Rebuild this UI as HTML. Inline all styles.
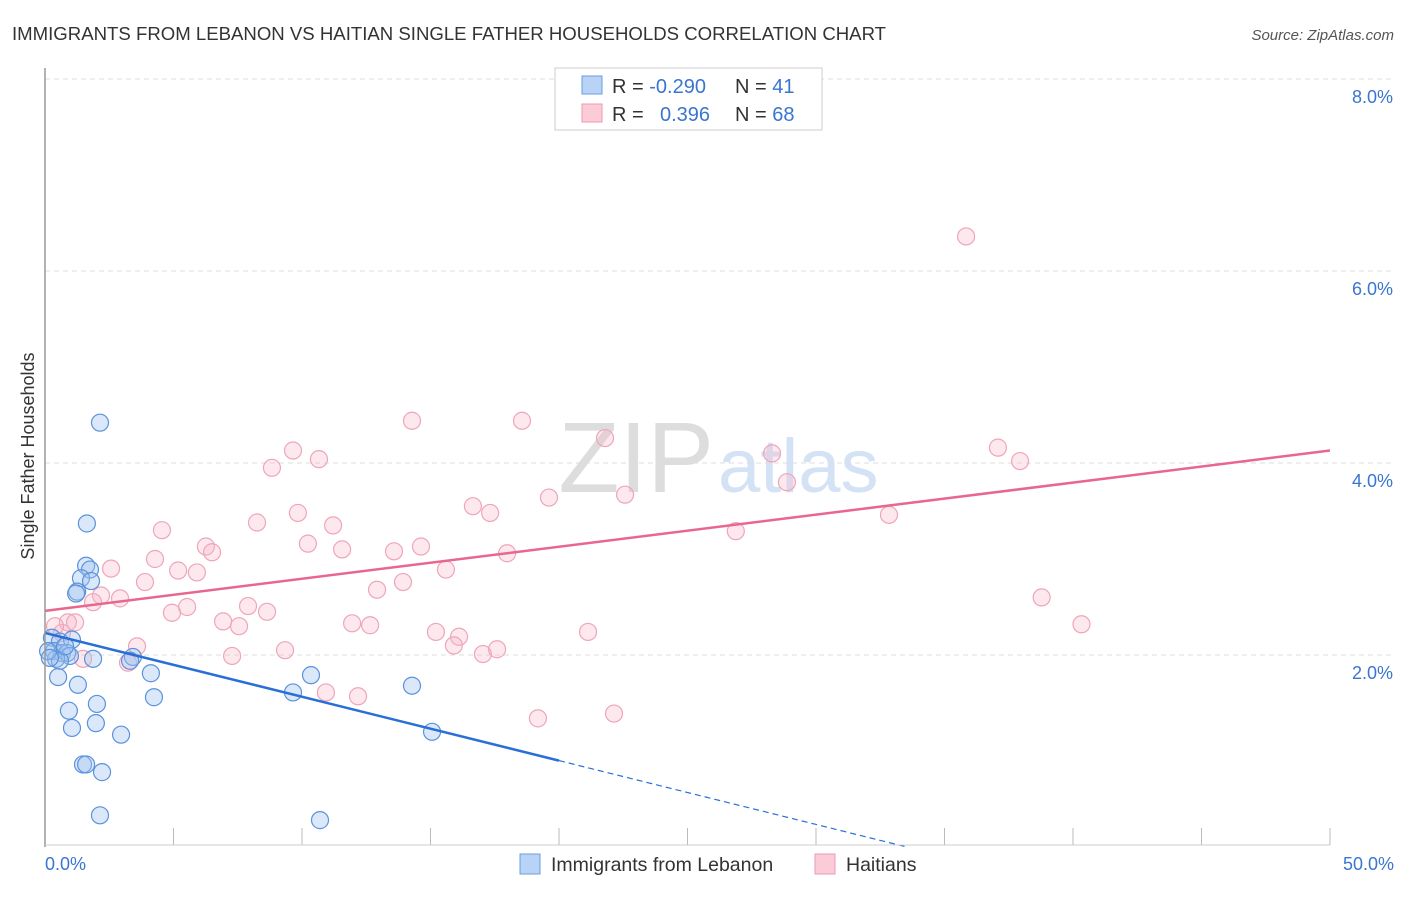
<!DOCTYPE html>
<html><head><meta charset="utf-8"><style>
body{margin:0;background:#fff;font-family:"Liberation Sans",sans-serif}
svg text{font-family:"Liberation Sans",sans-serif}
</style></head><body>
<svg id="c" width="1406" height="892">
<text x="12" y="40" font-size="18.6" fill="#333">IMMIGRANTS FROM LEBANON VS HAITIAN SINGLE FATHER HOUSEHOLDS CORRELATION CHART</text>
<text x="1394" y="40" font-size="15" fill="#555" font-style="italic" text-anchor="end">Source: ZipAtlas.com</text>
<text x="714" y="492" font-size="100" fill="#ddd" text-anchor="end" font-family="Liberation Serif">ZIP</text>
<text x="718" y="492" font-size="76" fill="#d4e2f6">atlas</text>
<text transform="translate(34,456) rotate(-90)" font-size="18" fill="#333" text-anchor="middle">Single Father Households</text>
<g id="grid"></g><g id="pts"></g><g id="lines"></g>
<line x1="45" y1="68" x2="45" y2="847" stroke="#999" stroke-width="1.5"/>
<line x1="45" y1="845" x2="1330" y2="845" stroke="#ccc"/>
<text x="45" y="870" font-size="18" fill="#3a75d0">0.0%</text>
<text x="1394" y="870" font-size="18" fill="#3a75d0" text-anchor="end">50.0%</text>
<g>
<rect x="555" y="68" width="267" height="62" fill="#fff" stroke="#ccc"/>
<rect x="582" y="76" width="20" height="18" fill="#b8d3f5" stroke="#6a9de0"/>
<rect x="582" y="104" width="20" height="18" fill="#fbcbd8" stroke="#ec9ab3"/>
<text x="612" y="93" font-size="20" fill="#333">R = <tspan fill="#3a75d0">-0.290</tspan><tspan x="735">N = </tspan><tspan fill="#3a75d0">41</tspan></text>
<text x="612" y="121" font-size="20" fill="#333">R = <tspan x="660" fill="#3a75d0">0.396</tspan><tspan x="735">N = </tspan><tspan fill="#3a75d0">68</tspan></text>
</g>
<g>
<rect x="520" y="854" width="20" height="20" fill="#b8d3f5" stroke="#6a9de0"/>
<text x="551" y="871" font-size="19.5" fill="#333">Immigrants from Lebanon</text>
<rect x="815" y="854" width="20" height="20" fill="#fbcbd8" stroke="#ec9ab3"/>
<text x="846" y="871" font-size="19.5" fill="#333">Haitians</text>
</g>
</svg>
<script>
const yTicks=[2,4,6,8];
const xTickCount=10;
const blueX=[2.14,1.63,1.6,1.75,1.4,1.79,1.25,1.21,0.27,0.58,1.05,0.35,0.66,0.86,0.97,0.43,0.58,1.87,3.42,0.51,1.28,4.12,10.35,4.24,9.65,14.28,0.93,2.02,1.05,1.98,2.96,15.06,1.48,1.6,2.22,2.14,10.7,0.12,0.19,0.78,3.31];
const blueY=[4.42,3.37,2.93,2.89,2.8,2.77,2.66,2.64,2.18,2.14,2.16,2.04,2.02,2.02,1.99,1.96,1.94,1.96,1.98,1.77,1.69,1.81,1.79,1.56,1.61,1.68,1.42,1.49,1.24,1.29,1.17,1.2,0.86,0.86,0.78,0.33,0.28,2.04,1.97,2.09,1.94];
const pinkX=[35.84,14.28,18.56,21.79,9.65,10.66,8.83,28.29,37.08,37.94,16.65,17.32,19.61,22.57,9.84,4.55,8.25,11.21,28.87,32.84,26.88,10.23,6.26,6.5,11.56,13.58,14.63,17.98,4.28,2.57,3.89,5.18,5.91,15.6,12.92,13.93,2.18,2.92,1.87,7.9,8.64,5.53,4.94,6.93,7.55,11.95,12.65,15.21,16.11,21.13,0.89,1.17,0.66,0.39,3.58,1.48,3.23,7.28,9.34,15.91,17.04,17.59,10.93,12.18,19.18,22.14,38.78,40.33];
const pinkY=[6.36,4.44,4.44,4.26,4.13,4.04,3.95,4.1,4.16,4.02,3.55,3.48,3.64,3.67,3.48,3.3,3.38,3.35,3.8,3.46,3.29,3.16,3.13,3.07,3.1,3.08,3.13,3.06,3.0,2.9,2.76,2.88,2.86,2.89,2.68,2.76,2.62,2.59,2.55,2.51,2.45,2.5,2.44,2.35,2.3,2.33,2.31,2.24,2.19,2.24,2.34,2.34,2.23,2.3,2.09,1.96,1.92,1.99,2.05,2.1,2.01,2.06,1.61,1.57,1.34,1.39,2.6,2.32];
const blueFit=[2.23,-0.0665];
const pinkFit=[2.46,0.0334];
const NS='http://www.w3.org/2000/svg';
const X=v=>45+v*25.7, Y=v=>847-v*96;
function mk(t,a,p){const e=document.createElementNS(NS,t);for(const k in a)e.setAttribute(k,a[k]);p.appendChild(e);return e;}
const grid=document.getElementById('grid'),pts=document.getElementById('pts'),lines=document.getElementById('lines');
yTicks.forEach(t=>{
 const l=mk('line',{x1:45,x2:1394,y1:Y(t),y2:Y(t),stroke:'#ddd','stroke-dasharray':'5,4'},grid);
 
 
 const tx=mk('text',{x:1393,y:Y(t)+24,'font-size':18,fill:'#3a75d0','text-anchor':'end'},grid);
 tx.textContent=t.toFixed(1)+'%';
 
 
});
for(let i=1;i<=xTickCount;i++){
 const l=mk('line',{x1:X(i*5),x2:X(i*5),y1:828,y2:845,stroke:'#bbb'},grid);
 
 
}
pinkX.forEach((v,i)=>{
 const c=mk('circle',{cx:X(v),cy:Y(pinkY[i]),r:8.5,fill:'rgba(248,180,200,0.3)',stroke:'#eea5bb','stroke-width':1.2},pts);
 
 
});
blueX.forEach((v,i)=>{
 const c=mk('circle',{cx:X(v),cy:Y(blueY[i]),r:8.5,fill:'rgba(160,195,240,0.38)',stroke:'#5b92dc','stroke-width':1.2},pts);
 
 
});
const pl=mk('line',{x1:X(0),y1:Y(pinkFit[0]),x2:X(50),y2:Y(pinkFit[0]+50*pinkFit[1]),stroke:'#e8678f','stroke-width':2.5},lines);


const bl=mk('line',{x1:X(0),y1:Y(blueFit[0]),x2:X(20),y2:Y(blueFit[0]+20*blueFit[1]),stroke:'#2a6fd6','stroke-width':2.5},lines);


const xe=-blueFit[0]/blueFit[1];
const bd=mk('line',{x1:X(20),y1:Y(blueFit[0]+20*blueFit[1]),x2:X(xe),y2:Y(0),stroke:'#2a6fd6','stroke-width':1.2,'stroke-dasharray':'6,4'},lines);


</script>
</body></html>
